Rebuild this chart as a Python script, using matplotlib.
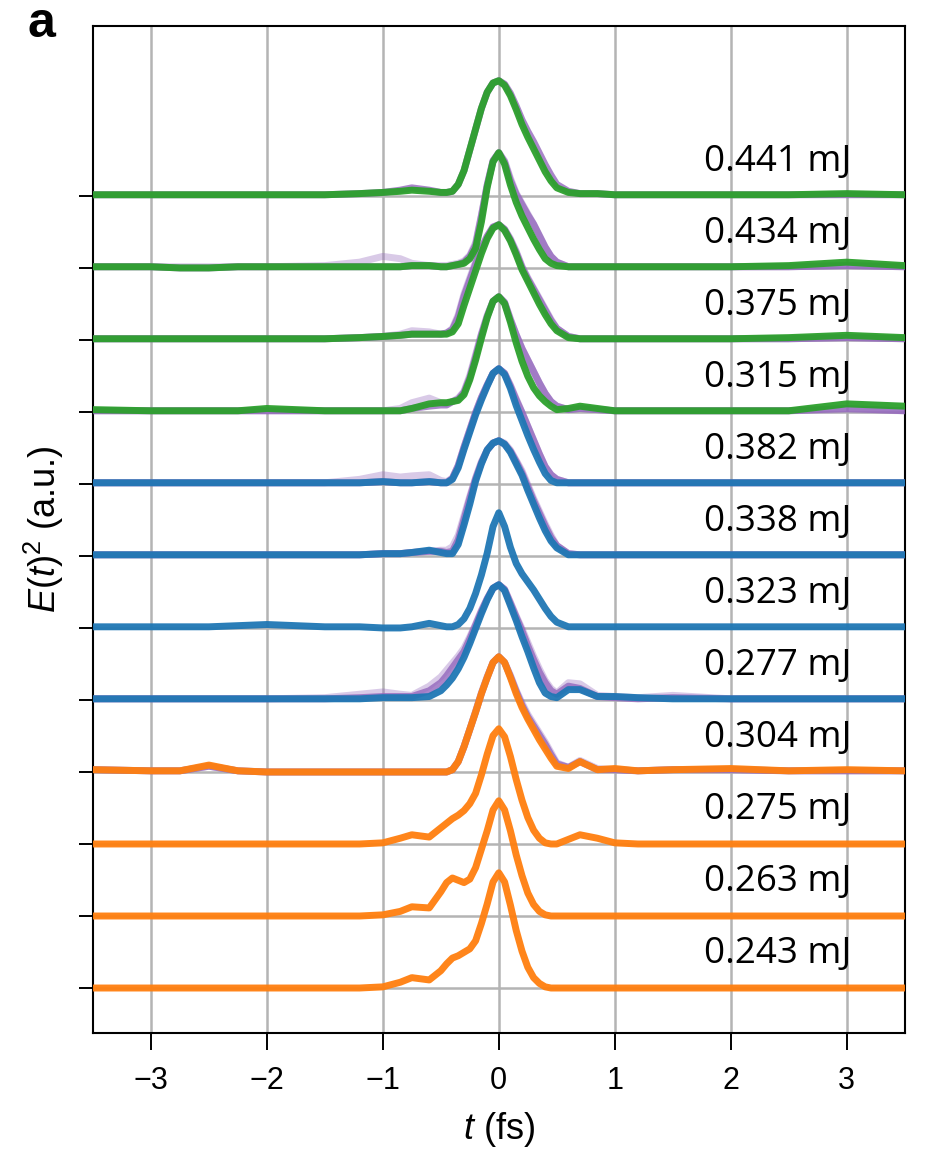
import numpy as np
import matplotlib.pyplot as plt

plt.rcParams['mathtext.fontset'] = 'custom'
plt.rcParams['mathtext.rm'] = 'Liberation Sans'
plt.rcParams['mathtext.it'] = 'Liberation Sans:italic'

t = [-3.5, -3.0, -2.75, -2.5, -2.25, -2.0, -1.5, -1.2, -1.0, -0.85, -0.75, -0.6, -0.5,
     -0.45, -0.4, -0.35, -0.3, -0.25, -0.2, -0.15, -0.1, -0.05, 0.0,
     0.05, 0.1, 0.15, 0.2, 0.25, 0.3, 0.35, 0.4, 0.45, 0.5,
     0.6, 0.7, 0.85, 1.0, 1.2, 1.5, 2.0, 2.5, 3.0, 3.5]

labels = ['0.441 mJ', '0.434 mJ', '0.375 mJ', '0.315 mJ',
          '0.382 mJ', '0.338 mJ', '0.323 mJ', '0.277 mJ',
          '0.304 mJ', '0.275 mJ', '0.263 mJ', '0.243 mJ']
colors = ['#2ca02c'] * 4 + ['#1f77b4'] * 4 + ['#ff7f0e'] * 4

# measured traces, top to bottom, peak normalised to 1
main = [
    [0.01, 0.01, 0.01, 0.01, 0.01, 0.01, 0.01, 0.02, 0.03, 0.04, 0.05, 0.04, 0.03,
     0.03, 0.04, 0.10, 0.22, 0.40, 0.58, 0.76, 0.90, 0.98, 1.00,
     0.96, 0.87, 0.75, 0.62, 0.51, 0.41, 0.31, 0.21, 0.13, 0.07,
     0.03, 0.02, 0.02, 0.01, 0.01, 0.01, 0.01, 0.01, 0.02, 0.01],
    [0.01, 0.01, 0.00, 0.00, 0.01, 0.01, 0.01, 0.01, 0.01, 0.01, 0.02, 0.02, 0.01,
     0.01, 0.02, 0.03, 0.04, 0.08, 0.17, 0.40, 0.70, 0.92, 1.00,
     0.90, 0.72, 0.57, 0.45, 0.35, 0.25, 0.16, 0.08, 0.04, 0.02,
     0.01, 0.01, 0.01, 0.01, 0.01, 0.01, 0.01, 0.02, 0.05, 0.02],
    [0.01, 0.01, 0.01, 0.01, 0.01, 0.01, 0.01, 0.02, 0.03, 0.04, 0.05, 0.05, 0.05,
     0.05, 0.07, 0.14, 0.30, 0.45, 0.60, 0.75, 0.88, 0.97, 1.00,
     0.95, 0.86, 0.74, 0.61, 0.51, 0.41, 0.31, 0.22, 0.14, 0.08,
     0.02, 0.01, 0.01, 0.01, 0.01, 0.01, 0.01, 0.02, 0.04, 0.02],
    [0.02, 0.01, 0.01, 0.01, 0.01, 0.03, 0.01, 0.01, 0.01, 0.01, 0.03, 0.07, 0.08,
     0.08, 0.09, 0.10, 0.15, 0.28, 0.45, 0.64, 0.82, 0.96, 1.00,
     0.94, 0.78, 0.60, 0.44, 0.31, 0.21, 0.14, 0.09, 0.05, 0.02,
     0.03, 0.05, 0.03, 0.01, 0.01, 0.01, 0.01, 0.01, 0.07, 0.05],
    [0.01, 0.01, 0.01, 0.01, 0.01, 0.01, 0.01, 0.01, 0.02, 0.01, 0.01, 0.02, 0.01,
     0.01, 0.04, 0.14, 0.30, 0.45, 0.60, 0.73, 0.85, 0.96, 1.00,
     0.95, 0.83, 0.68, 0.55, 0.42, 0.30, 0.19, 0.09, 0.03, 0.01,
     0.01, 0.01, 0.01, 0.01, 0.01, 0.01, 0.01, 0.01, 0.01, 0.01],
    [0.01, 0.01, 0.01, 0.01, 0.01, 0.01, 0.01, 0.01, 0.02, 0.02, 0.03, 0.05, 0.03,
     0.02, 0.02, 0.10, 0.27, 0.45, 0.65, 0.80, 0.92, 0.98, 1.00,
     0.97, 0.90, 0.80, 0.70, 0.57, 0.45, 0.33, 0.22, 0.13, 0.07,
     0.01, 0.01, 0.01, 0.01, 0.01, 0.01, 0.01, 0.01, 0.01, 0.01],
    [0.01, 0.01, 0.01, 0.01, 0.02, 0.03, 0.01, 0.01, 0.00, 0.00, 0.01, 0.04, 0.02,
     0.01, 0.01, 0.03, 0.08, 0.17, 0.30, 0.46, 0.65, 0.88, 1.00,
     0.88, 0.70, 0.56, 0.47, 0.40, 0.33, 0.25, 0.17, 0.10, 0.05,
     0.01, 0.01, 0.01, 0.01, 0.01, 0.01, 0.01, 0.01, 0.01, 0.01],
    [0.01, 0.01, 0.01, 0.01, 0.01, 0.01, 0.01, 0.01, 0.02, 0.02, 0.02, 0.03, 0.08,
     0.13, 0.19, 0.27, 0.37, 0.49, 0.62, 0.75, 0.87, 0.97, 1.00,
     0.95, 0.82, 0.69, 0.55, 0.42, 0.28, 0.15, 0.06, 0.03, 0.02,
     0.09, 0.09, 0.03, 0.03, 0.02, 0.01, 0.01, 0.01, 0.01, 0.01],
    [0.02, 0.01, 0.01, 0.06, 0.01, 0.00, 0.00, 0.00, 0.00, 0.00, 0.00, 0.00, 0.00,
     0.00, 0.02, 0.09, 0.22, 0.37, 0.52, 0.68, 0.82, 0.95, 1.00,
     0.95, 0.82, 0.68, 0.56, 0.46, 0.37, 0.28, 0.20, 0.12, 0.05,
     0.03, 0.09, 0.02, 0.03, 0.01, 0.02, 0.03, 0.01, 0.02, 0.01],
    [0.00, 0.00, 0.00, 0.00, 0.00, 0.00, 0.00, 0.00, 0.01, 0.05, 0.08, 0.06, 0.14,
     0.18, 0.22, 0.25, 0.29, 0.35, 0.44, 0.60, 0.78, 0.94, 1.00,
     0.93, 0.76, 0.56, 0.38, 0.23, 0.12, 0.05, 0.01, 0.00, 0.00,
     0.04, 0.08, 0.05, 0.01, 0.00, 0.00, 0.00, 0.00, 0.00, 0.00],
    [0.00, 0.00, 0.00, 0.00, 0.00, 0.00, 0.00, 0.00, 0.01, 0.04, 0.08, 0.07, 0.21,
     0.29, 0.33, 0.31, 0.29, 0.32, 0.42, 0.58, 0.74, 0.92, 1.00,
     0.92, 0.74, 0.53, 0.35, 0.20, 0.10, 0.04, 0.01, 0.00, 0.00,
     0.00, 0.00, 0.00, 0.00, 0.00, 0.00, 0.00, 0.00, 0.00, 0.00],
    [0.00, 0.00, 0.00, 0.00, 0.00, 0.00, 0.00, 0.00, 0.01, 0.05, 0.09, 0.07, 0.15,
     0.21, 0.26, 0.28, 0.31, 0.34, 0.41, 0.56, 0.73, 0.92, 1.00,
     0.92, 0.72, 0.50, 0.32, 0.18, 0.09, 0.04, 0.01, 0.00, 0.00,
     0.00, 0.00, 0.00, 0.00, 0.00, 0.00, 0.00, 0.00, 0.00, 0.00],
]

# retrieved traces (purple), None where hidden under the measured one
retr = [
    [0.01, 0.01, 0.01, 0.01, 0.01, 0.01, 0.01, 0.02, 0.03, 0.05, 0.07, 0.05, 0.03,
     0.03, 0.04, 0.10, 0.22, 0.40, 0.58, 0.76, 0.90, 0.98, 1.00,
     0.97, 0.89, 0.78, 0.66, 0.56, 0.47, 0.37, 0.27, 0.18, 0.10,
     0.04, 0.02, 0.02, 0.01, 0.01, 0.01, 0.01, 0.01, 0.01, 0.01],
    [0.01, 0.01, 0.00, 0.00, 0.01, 0.01, 0.01, 0.01, 0.01, 0.01, 0.02, 0.02, 0.01,
     0.01, 0.02, 0.03, 0.05, 0.10, 0.20, 0.45, 0.72, 0.93, 1.00,
     0.92, 0.76, 0.64, 0.55, 0.46, 0.38, 0.28, 0.18, 0.10, 0.05,
     0.01, 0.01, 0.01, 0.01, 0.01, 0.01, 0.01, 0.01, 0.02, 0.01],
    [0.01, 0.01, 0.01, 0.01, 0.01, 0.01, 0.01, 0.02, 0.03, 0.04, 0.05, 0.05, 0.05,
     0.06, 0.09, 0.20, 0.38, 0.52, 0.66, 0.79, 0.90, 0.98, 1.00,
     0.96, 0.87, 0.76, 0.63, 0.53, 0.44, 0.35, 0.26, 0.17, 0.10,
     0.03, 0.01, 0.01, 0.01, 0.01, 0.01, 0.01, 0.01, 0.02, 0.01],
    [0.01, 0.01, 0.01, 0.01, 0.01, 0.01, 0.01, 0.01, 0.01, 0.01, 0.03, 0.05, 0.06,
     0.06, 0.09, 0.11, 0.17, 0.30, 0.48, 0.67, 0.83, 0.96, 1.00,
     0.95, 0.80, 0.67, 0.55, 0.45, 0.35, 0.25, 0.16, 0.09, 0.05,
     0.02, 0.03, 0.02, 0.01, 0.01, 0.01, 0.01, 0.01, 0.03, 0.01],
    [0.01, 0.01, 0.01, 0.01, 0.01, 0.01, 0.01, 0.01, 0.02, 0.01, 0.01, 0.02, 0.01,
     0.01, 0.05, 0.16, 0.32, 0.47, 0.62, 0.75, 0.86, 0.96, 1.00,
     0.96, 0.85, 0.73, 0.62, 0.50, 0.38, 0.26, 0.15, 0.08, 0.04,
     0.01, 0.01, 0.01, 0.01, 0.01, 0.01, 0.01, 0.01, 0.01, 0.01],
    [0.01, 0.01, 0.01, 0.01, 0.01, 0.01, 0.01, 0.01, 0.02, 0.02, 0.03, 0.04, 0.04,
     0.03, 0.04, 0.14, 0.32, 0.50, 0.67, 0.81, 0.92, 0.98, 1.00,
     0.97, 0.91, 0.82, 0.72, 0.60, 0.48, 0.37, 0.26, 0.16, 0.09,
     0.02, 0.01, 0.01, 0.01, 0.01, 0.01, 0.01, 0.01, 0.01, 0.01],
    None,
    [0.01, 0.01, 0.01, 0.01, 0.01, 0.01, 0.01, 0.02, 0.03, 0.03, 0.03, 0.08, 0.15,
     0.21, 0.28, 0.35, 0.42, 0.53, 0.65, 0.77, 0.88, 0.97, 1.00,
     0.96, 0.84, 0.72, 0.60, 0.47, 0.35, 0.24, 0.15, 0.08, 0.05,
     0.12, 0.10, 0.03, 0.02, 0.01, 0.02, 0.01, 0.01, 0.01, 0.01],
    [0.02, 0.01, 0.01, 0.05, 0.01, 0.00, 0.00, 0.00, 0.00, 0.00, 0.00, 0.00, 0.00,
     0.00, 0.02, 0.09, 0.22, 0.37, 0.52, 0.68, 0.82, 0.95, 1.00,
     0.95, 0.83, 0.70, 0.58, 0.48, 0.40, 0.32, 0.24, 0.15, 0.07,
     0.04, 0.09, 0.02, 0.02, 0.01, 0.02, 0.02, 0.01, 0.01, 0.01],
    None,
    None,
    None,
]

# faint purple (other retrievals), only where they stand out
faint = [
    None,
    [0.01, 0.01, 0.01, 0.01, 0.01, 0.01, 0.02, 0.05, 0.10, 0.08, 0.04, 0.02, 0.02,
     0.02, 0.03, 0.04, 0.06, 0.11, 0.22, 0.46, 0.72, 0.93, 1.00,
     0.93, 0.78, 0.65, 0.56, 0.47, 0.38, 0.28, 0.18, 0.10, 0.05,
     0.01, 0.01, 0.01, 0.01, 0.01, 0.01, 0.01, 0.01, 0.02, 0.01],
    [0.01, 0.01, 0.01, 0.01, 0.01, 0.01, 0.01, 0.02, 0.03, 0.05, 0.08, 0.07, 0.05,
     0.06, 0.10, 0.22, 0.40, 0.54, 0.68, 0.80, 0.90, 0.98, 1.00,
     0.96, 0.88, 0.77, 0.64, 0.54, 0.45, 0.36, 0.27, 0.18, 0.10,
     0.03, 0.01, 0.01, 0.01, 0.01, 0.01, 0.01, 0.01, 0.02, 0.01],
    [0.01, 0.01, 0.01, 0.01, 0.01, 0.01, 0.01, 0.01, 0.01, 0.03, 0.08, 0.12, 0.08,
     0.07, 0.09, 0.12, 0.18, 0.32, 0.50, 0.68, 0.84, 0.96, 1.00,
     0.95, 0.81, 0.67, 0.55, 0.45, 0.35, 0.25, 0.16, 0.09, 0.05,
     0.02, 0.03, 0.02, 0.01, 0.01, 0.01, 0.01, 0.01, 0.02, 0.01],
    [0.01, 0.01, 0.01, 0.01, 0.01, 0.01, 0.01, 0.04, 0.08, 0.06, 0.07, 0.08, 0.03,
     0.02, 0.05, 0.16, 0.32, 0.47, 0.62, 0.75, 0.86, 0.96, 1.00,
     0.96, 0.86, 0.74, 0.62, 0.50, 0.38, 0.26, 0.15, 0.08, 0.04,
     0.01, 0.01, 0.01, 0.01, 0.01, 0.01, 0.01, 0.01, 0.01, 0.01],
    [0.01, 0.01, 0.01, 0.01, 0.01, 0.01, 0.01, 0.01, 0.02, 0.02, 0.03, 0.04, 0.05,
     0.05, 0.08, 0.18, 0.35, 0.52, 0.68, 0.82, 0.92, 0.98, 1.00,
     0.98, 0.92, 0.83, 0.74, 0.62, 0.50, 0.39, 0.28, 0.18, 0.09,
     0.02, 0.01, 0.01, 0.01, 0.01, 0.01, 0.01, 0.01, 0.01, 0.01],
    None,
    [0.01, 0.01, 0.01, 0.01, 0.01, 0.01, 0.02, 0.05, 0.07, 0.05, 0.04, 0.12, 0.20,
     0.26, 0.32, 0.38, 0.45, 0.55, 0.66, 0.78, 0.88, 0.97, 1.00,
     0.96, 0.85, 0.73, 0.62, 0.50, 0.38, 0.27, 0.17, 0.10, 0.06,
     0.15, 0.14, 0.04, 0.03, 0.02, 0.04, 0.01, 0.01, 0.01, 0.01],
    [0.02, 0.01, 0.01, 0.05, 0.01, 0.00, 0.00, 0.00, 0.00, 0.00, 0.00, 0.00, 0.00,
     0.00, 0.02, 0.09, 0.22, 0.37, 0.53, 0.69, 0.83, 0.95, 1.00,
     0.95, 0.84, 0.71, 0.60, 0.50, 0.42, 0.34, 0.26, 0.17, 0.08,
     0.04, 0.10, 0.03, 0.02, 0.01, 0.02, 0.02, 0.01, 0.01, 0.01],
    None,
    None,
    None,
]

n = len(labels)
offsets = [n - 1 - i for i in range(n)]
scale = 1.6

fig = plt.figure(figsize=(9.25, 11.59), dpi=100)
ax = fig.add_axes([0.1005, 0.1087, 0.8775, 0.8689])

tt = np.array(t)
for i in range(n):
    off = offsets[i]
    if faint[i] is not None:
        ax.plot(tt, off + scale * np.array(faint[i]), color='#9467bd', alpha=0.35,
                lw=5, solid_joinstyle='round', zorder=2)
    if retr[i] is not None:
        ax.plot(tt, off + scale * np.array(retr[i]), color='#9467bd', alpha=0.8,
                lw=5, solid_joinstyle='round', zorder=3)
    ax.plot(tt, off + scale * np.array(main[i]), color=colors[i], alpha=0.95,
            lw=5, solid_joinstyle='round', zorder=4)
    ax.text(3.04, off + 0.47, labels[i], ha='right', va='center', fontsize=26.5,
            family='Open Sans', zorder=5)

ax.set_xlim(-3.5, 3.5)
ax.set_ylim(-0.625, 13.36)
ax.set_xticks([-3, -2, -1, 0, 1, 2, 3])
ax.set_xticklabels(['\u22123', '\u22122', '\u22121', '0', '1', '2', '3'],
                   fontsize=22, family='Liberation Sans')
ax.set_yticks(offsets)
ax.set_yticklabels([])
ax.tick_params(axis='y', length=10, width=1.4)
ax.tick_params(axis='x', length=12, width=1.4, pad=12)
ax.grid(True, color='#b4b4b4', lw=1.8, zorder=0)
ax.set_axisbelow(True)
for s in ax.spines.values():
    s.set_linewidth(1.5)

ax.set_xlabel('$t$ (fs)', fontsize=26, family='Liberation Sans', labelpad=10)
ax.set_ylabel('$E(t)^2$ (a.u.)', fontsize=26, family='Liberation Sans', labelpad=6)
fig.text(0.0443, 0.9681, 'a', fontsize=36, fontweight='bold', ha='center',
         va='baseline', family='Liberation Sans')

fig.savefig('out.png', dpi=100)
